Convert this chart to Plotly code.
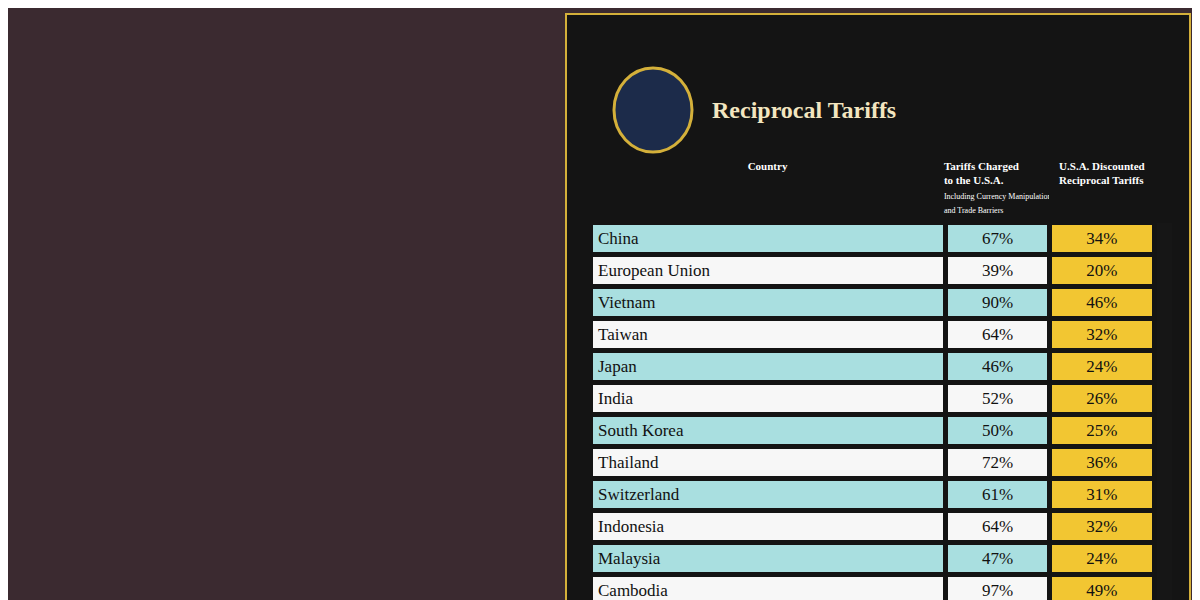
import plotly.graph_objects as go

countries = ["China", "European Union", "Vietnam", "Taiwan", "Japan", "India",
             "South Korea", "Thailand", "Switzerland", "Indonesia", "Malaysia", "Cambodia"]
charged = [67, 39, 90, 64, 46, 52, 50, 72, 61, 64, 47, 97]
discounted = [34, 20, 46, 32, 24, 26, 25, 36, 31, 32, 24, 49]

n = len(countries)
blue, white, gold = "#a9dfe0", "#f7f7f7", "#f2c632"
alt = [blue if i % 2 == 0 else white for i in range(n)]

fig = go.Figure(go.Table(
    domain=dict(x=[0.485, 0.955], y=[0.0, 0.76]),
    columnwidth=[2.9, 0.85, 0.85],
    header=dict(
        values=["<b>Country</b>",
                "<b>Tariffs Charged<br>to the U.S.A.</b><br><span style='font-size:8px'>Including Currency Manipulation<br>and Trade Barriers</span>",
                "<b>U.S.A. Discounted<br>Reciprocal Tariffs</b>"],
        fill_color="#141414", line_color="#141414",
        font=dict(color="white", size=11, family="Liberation Serif"),
        align="center", height=60),
    cells=dict(
        values=[countries, [f"{v}%" for v in charged], [f"{v}%" for v in discounted]],
        fill_color=[alt, alt, [gold] * n],
        line=dict(color="#141414", width=5),
        font=dict(color="#111", size=17, family="Liberation Serif"),
        align=["left", "center", "center"], height=32),
))

fig.update_layout(
    width=1200, height=600, margin=dict(l=0, r=0, t=0, b=0),
    paper_bgcolor="#3b2a30",
    shapes=[
        dict(type="rect", xref="paper", yref="paper", x0=0.465, x1=0.985, y0=-0.02, y1=0.99,
             fillcolor="#141414", line=dict(color="#d4b03a", width=2), layer="below"),
        dict(type="circle", xref="paper", yref="paper", x0=0.505, x1=0.57, y0=0.76, y1=0.90,
             fillcolor="#1c2b4a", line=dict(color="#d4b03a", width=3)),
    ],
    annotations=[dict(text="<b>Reciprocal Tariffs</b>", xref="paper", yref="paper",
                      x=0.585, y=0.83, xanchor="left", yanchor="middle", showarrow=False,
                      font=dict(color="#f3e6c0", size=24, family="Liberation Serif"))],
)

fig.write_html("out.html")
